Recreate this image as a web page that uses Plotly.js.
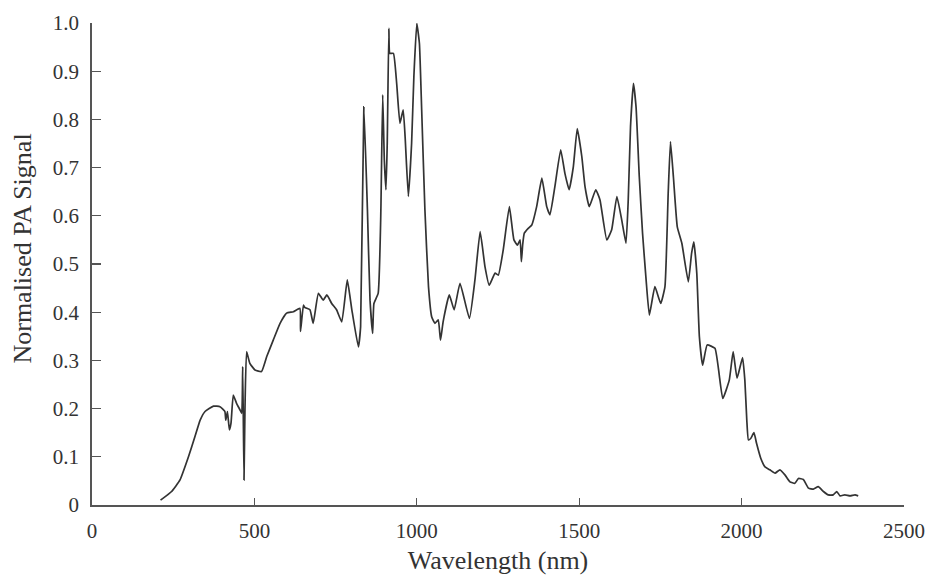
<!DOCTYPE html>
<html>
<head>
<meta charset="utf-8">
<script src="https://cdn.plot.ly/plotly-3.0.1.min.js"></script>
<style>html,body{margin:0;padding:0;background:#fff;}#chart{width:930px;height:580px;}</style>
</head>
<body>
<div id="chart"></div>
<script>
const wavelength = [211,245,271,297,317,333,348,374,394,409,412,417,423,428,435,445,456,461,464,468,471,476,486,502,522,538,558,579,599,620,640,642,651,655,671,681,697,712,723,738,753,769,786,800,820,827,837,848,856,864,868,881,889,895,900,905,909,914,917,928,938,948,958,964,974,984,991,1000,1008,1015,1025,1036,1046,1056,1066,1073,1081,1100,1115,1133,1162,1179,1195,1210,1223,1241,1251,1266,1285,1299,1310,1318,1322,1326,1331,1343,1354,1369,1385,1400,1410,1425,1443,1456,1469,1482,1494,1508,1518,1531,1551,1564,1585,1600,1616,1631,1644,1651,1658,1667,1675,1685,1695,1706,1716,1733,1751,1764,1774,1781,1790,1802,1816,1836,1846,1853,1862,1870,1880,1894,1918,1942,1962,1974,1986,2003,2010,2016,2021,2028,2038,2046,2059,2072,2087,2103,2118,2134,2149,2164,2175,2190,2206,2221,2236,2252,2267,2282,2293,2303,2318,2334,2349,2359];
const signal = [0.010,0.028,0.052,0.100,0.142,0.176,0.194,0.205,0.204,0.194,0.176,0.194,0.156,0.170,0.228,0.211,0.197,0.190,0.287,0.052,0.200,0.318,0.294,0.280,0.277,0.308,0.342,0.377,0.398,0.401,0.408,0.360,0.415,0.410,0.405,0.377,0.439,0.425,0.436,0.418,0.405,0.380,0.467,0.405,0.328,0.370,0.826,0.612,0.425,0.356,0.418,0.439,0.598,0.851,0.716,0.654,0.750,0.989,0.937,0.937,0.875,0.792,0.820,0.764,0.640,0.750,0.889,0.999,0.958,0.820,0.612,0.453,0.390,0.377,0.384,0.342,0.380,0.436,0.405,0.460,0.387,0.467,0.567,0.494,0.456,0.481,0.477,0.529,0.619,0.550,0.539,0.550,0.505,0.540,0.564,0.574,0.581,0.619,0.678,0.619,0.602,0.660,0.737,0.688,0.654,0.702,0.781,0.723,0.660,0.619,0.654,0.633,0.550,0.571,0.640,0.591,0.543,0.633,0.785,0.875,0.826,0.681,0.564,0.467,0.394,0.453,0.418,0.453,0.647,0.754,0.681,0.577,0.543,0.463,0.522,0.546,0.481,0.349,0.290,0.332,0.325,0.221,0.259,0.318,0.263,0.306,0.259,0.176,0.135,0.138,0.150,0.128,0.097,0.079,0.073,0.066,0.073,0.062,0.048,0.045,0.055,0.053,0.035,0.033,0.038,0.028,0.021,0.021,0.028,0.019,0.021,0.019,0.021,0.019];
const xTicks = [0,500,1000,1500,2000,2500];
const xTickText = ['0','500','1000','1500','2000','2500'];
const yTicks = [0,0.1,0.2,0.3,0.4,0.5,0.6,0.7,0.8,0.9,1.0];
const yTickText = ['0','0.1','0.2','0.3','0.4','0.5','0.6','0.7','0.8','0.9','1.0'];
const xTitle = 'Wavelength (nm)';
const yTitle = 'Normalised PA Signal';

const font = 'Liberation Serif, Times New Roman, serif';
const trace = {
  x: wavelength, y: signal, type: 'scatter', mode: 'lines',
  line: {color: '#333333', width: 1.7, shape: 'spline', smoothing: 0.4},
  hoverinfo: 'skip'
};
const layout = {
  width: 930, height: 580,
  margin: {l: 92, r: 26, t: 23, b: 75},
  paper_bgcolor: '#ffffff', plot_bgcolor: '#ffffff',
  showlegend: false,
  font: {family: font, color: '#333333', size: 21},
  xaxis: {
    range: [0, 2500], tickvals: xTicks, ticktext: xTickText,
    ticks: 'inside', ticklen: 7, tickwidth: 1.2, tickcolor: '#555',
    showline: true, linecolor: '#555', linewidth: 1.8, mirror: false,
    showgrid: false, zeroline: false,
    tickfont: {family: font, size: 21, color: '#333'},
    ticklabelstandoff: 6,
    title: {text: xTitle, font: {family: font, size: 26, color: '#333'}, standoff: 9}
  },
  yaxis: {
    range: [0, 1.0], tickvals: yTicks, ticktext: yTickText,
    ticks: 'inside', ticklen: 9, tickwidth: 1.2, tickcolor: '#555',
    showline: true, linecolor: '#555', linewidth: 1.8, mirror: false,
    showgrid: false, zeroline: false,
    tickfont: {family: font, size: 21, color: '#333'},
    ticklabelstandoff: 7
  },
  annotations: [{
    text: yTitle, textangle: -90, showarrow: false,
    xref: 'paper', yref: 'paper', x: -0.085, y: 0.532,
    xanchor: 'center', yanchor: 'middle',
    font: {family: font, size: 26, color: '#333'}
  }]
};
Plotly.newPlot('chart', [trace], layout, {displayModeBar: false, staticPlot: true});
</script>
</body>
</html>
